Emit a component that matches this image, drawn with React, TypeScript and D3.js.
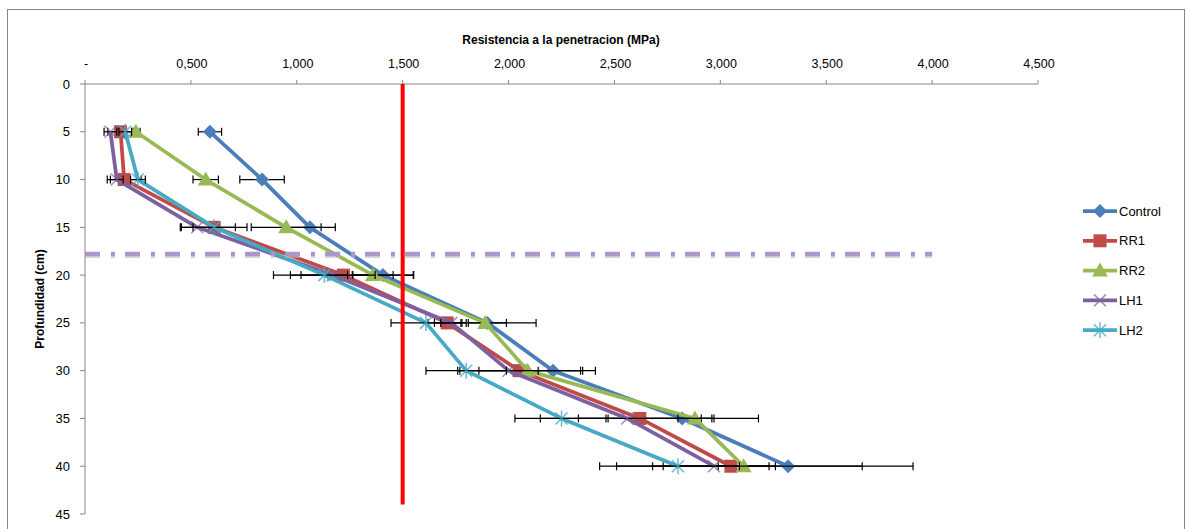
import React from "react";
import * as d3 from "d3";

const depths = [5, 10, 15, 20, 25, 30, 35, 40];
const xTicks = [0, 0.5, 1, 1.5, 2, 2.5, 3, 3.5, 4, 4.5];
const yTicks = [0, 5, 10, 15, 20, 25, 30, 35, 40, 45];

const control = [0.59, 0.836, 1.062, 1.407, 1.9, 2.21, 2.82, 3.32];
const rr1 = [0.168, 0.185, 0.61, 1.22, 1.71, 2.05, 2.62, 3.05];
const rr2 = [0.24, 0.57, 0.95, 1.36, 1.89, 2.09, 2.88, 3.11];
const lh1 = [0.12, 0.15, 0.53, 1.17, 1.73, 2.0, 2.56, 2.97];
const lh2 = [0.19, 0.25, 0.61, 1.13, 1.61, 1.8, 2.25, 2.8];

const controlErr = [0.055, 0.105, 0.12, 0.145, 0.09, 0.14, 0.36, 0.59];
const rr1Err = [0.06, 0.08, 0.155, 0.33, 0.09, 0.29, 0.29, 0.62];
const rr2Err = [0.02, 0.06, 0.165, 0.095, 0.24, 0.32, 0.08, 0.12];
const lh1Err = [0.03, 0.03, 0.08, 0.2, 0.05, 0.14, 0.41, 0.29];
const lh2Err = [0.03, 0.035, 0.1, 0.11, 0.165, 0.19, 0.22, 0.29];

const limitValue = 1.5;
const limitDepthEnd = 44;
const compactDepth = 17.8;
const compactEnd = 4.0;

const series = [
  { name: "Control", values: control, err: controlErr, color: "#4A7EBB", marker: "diamond" },
  { name: "RR1", values: rr1, err: rr1Err, color: "#BE4B48", marker: "square" },
  { name: "RR2", values: rr2, err: rr2Err, color: "#98B954", marker: "triangle" },
  { name: "LH1", values: lh1, err: lh1Err, color: "#7D60A0", marker: "x" },
  { name: "LH2", values: lh2, err: lh2Err, color: "#46AAC5", marker: "star" },
];

const FONT = "'Liberation Sans', Arial, sans-serif";

function Marker({ type, cx, cy, color }: { type: string; cx: number; cy: number; color: string }) {
  if (type === "diamond") {
    return <path d={`M${cx},${cy - 7}L${cx + 7},${cy}L${cx},${cy + 7}L${cx - 7},${cy}Z`} fill={color} />;
  }
  if (type === "square") {
    return <rect x={cx - 6.5} y={cy - 6.5} width={13} height={13} fill={color} />;
  }
  if (type === "triangle") {
    return <path d={`M${cx},${cy - 8}L${cx + 8},${cy + 6}L${cx - 8},${cy + 6}Z`} fill={color} />;
  }
  if (type === "x") {
    return (
      <path d={`M${cx - 6},${cy - 6}L${cx + 6},${cy + 6}M${cx - 6},${cy + 6}L${cx + 6},${cy - 6}`}
        stroke={color} strokeWidth={1.5} opacity={0.7} />
    );
  }
  return (
    <path
      d={`M${cx - 6},${cy - 6}L${cx + 6},${cy + 6}M${cx - 6},${cy + 6}L${cx + 6},${cy - 6}M${cx},${cy - 8}L${cx},${cy + 8}`}
      stroke={color} strokeWidth={1.5} opacity={0.8} />
  );
}

export default function App() {
  const W = 1187;
  const H = 529;
  const x = d3.scaleLinear().domain([0, 4.5]).range([85, 1038]);
  const y = d3.scaleLinear().domain([0, 45]).range([84, 514]);
  const fmt = (v: number) => (v === 0 ? "-" : d3.format(",.3f")(v).replace(".", ","));

  const line = d3
    .line<number>()
    .x((v) => x(v))
    .y((_, i) => y(depths[i]));

  const axisColor = "#868686";

  return (
    <div style={{ position: "fixed", left: 0, top: 0 }}>
      <svg width={W} height={H} style={{ display: "block", fontFamily: FONT }}>
        <rect x={0} y={0} width={W} height={H} fill="#fff" />
        <rect x={7.5} y={9.5} width={1177} height={540} fill="none" stroke={axisColor} />

        <text x={561} y={44} textAnchor="middle" fontSize={12} fontWeight="bold" fill="#000">
          Resistencia a la penetracion (MPa)
        </text>

        {/* top axis */}
        <line x1={85} x2={1038} y1={84} y2={84} stroke={axisColor} />
        {xTicks.map((t) => (
          <g key={t}>
            <line x1={x(t)} x2={x(t)} y1={80} y2={84} stroke={axisColor} />
            <text x={x(t) + 1} y={68} textAnchor="middle" fontSize={12.5} fill="#000">
              {fmt(t)}
            </text>
          </g>
        ))}

        {/* left axis */}
        <line x1={85} x2={85} y1={84} y2={514} stroke={axisColor} />
        {yTicks.map((t) => (
          <g key={t}>
            <line x1={80} x2={85} y1={y(t)} y2={y(t)} stroke={axisColor} />
            <text x={70} y={y(t) + 4.5} textAnchor="end" fontSize={13} fill="#000">
              {t}
            </text>
          </g>
        ))}
        <text transform="translate(44,299) rotate(-90)" textAnchor="middle" fontSize={12} fontWeight="bold" fill="#000">
          Profundidad  (cm)
        </text>

        {series.map((s) => (
          <g key={s.name}>
            <path d={line(s.values) || ""} fill="none" stroke={s.color} strokeWidth={3.75} strokeLinejoin="round" />
            {s.values.map((v, i) => {
              const cy = y(depths[i]);
              const x0 = x(v - s.err[i]);
              const x1 = x(v + s.err[i]);
              return (
                <g key={i} stroke="#000" strokeWidth={1.2}>
                  <line x1={x0} x2={x1} y1={cy} y2={cy} />
                  <line x1={x0} x2={x0} y1={cy - 4} y2={cy + 4} />
                  <line x1={x1} x2={x1} y1={cy - 4} y2={cy + 4} />
                </g>
              );
            })}
            {s.values.map((v, i) => (
              <Marker key={i} type={s.marker} cx={x(v)} cy={y(depths[i])} color={s.color} />
            ))}
          </g>
        ))}

        {/* compaction layer */}
        <line x1={x(0)} x2={x(compactEnd)} y1={y(compactDepth) + 2} y2={y(compactDepth) + 2}
          stroke="#bdbdbd" strokeWidth={4} strokeDasharray="15 11 4 10" opacity={0.6} />
        <line x1={x(0)} x2={x(compactEnd)} y1={y(compactDepth)} y2={y(compactDepth)}
          stroke="#ab97ca" strokeWidth={4.5} strokeDasharray="15 11 4 10" />

        {/* critical limit */}
        <line x1={x(limitValue)} x2={x(limitValue)} y1={y(0)} y2={y(limitDepthEnd)} stroke="#FF0000" strokeWidth={4} />

        {/* legend */}
        {series.map((s, i) => {
          const ly = 211 + i * 29.8;
          return (
            <g key={s.name}>
              <line x1={1083} x2={1117} y1={ly} y2={ly} stroke={s.color} strokeWidth={3.75} />
              <Marker type={s.marker} cx={1100} cy={ly} color={s.color} />
              <text x={1119} y={ly + 4.5} fontSize={13} fill="#000">
                {s.name}
              </text>
            </g>
          );
        })}
      </svg>
    </div>
  );
}
